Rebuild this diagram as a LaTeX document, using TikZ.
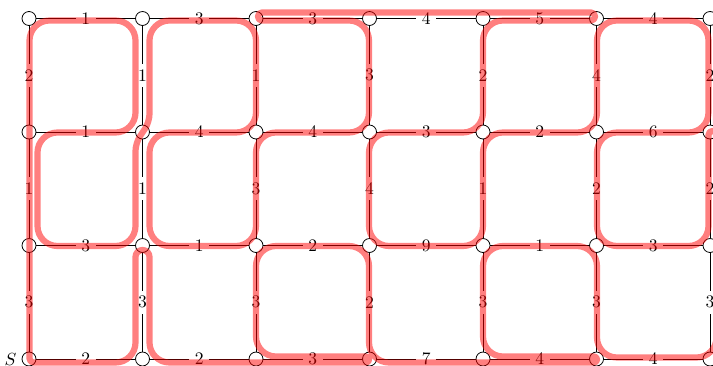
\documentclass[tikz,border=0pt]{standalone}
\begin{document}
\begin{tikzpicture}[x=0.02cm, y=-0.02cm,
  vtx/.style={circle, draw=black, fill=white, inner sep=0pt, minimum size=0.28cm, line width=0.45pt},
  wt/.style={fill=white, inner sep=3.2pt},
  gedge/.style={draw=black, line width=0.45pt},
  tour/.style={draw=red, draw opacity=0.5, line width=0.124cm, line cap=butt, line join=round}]
\useasboundingbox (0,0) rectangle (713,365);
% vertices
\foreach \c/\x in {0/29,1/142.5,2/256,3/369.5,4/483,5/596.5,6/710}
  \foreach \r/\y in {0/18.5,1/132,2/245.5,3/359}
    \node[vtx] (n\c\r) at (\x,\y) {};
\node[anchor=east, inner sep=1pt] (slab) at ([xshift=-0.06cm]n03.west) {$S$};
% edges with weights
\foreach \a/\b/\w in {00/10/1, 10/20/3, 20/30/3, 30/40/4, 40/50/5, 50/60/4,
                      01/11/1, 11/21/4, 21/31/4, 31/41/3, 41/51/2, 51/61/6,
                      02/12/3, 12/22/1, 22/32/2, 32/42/9, 42/52/1, 52/62/3,
                      03/13/2, 13/23/2, 23/33/3, 33/43/7, 43/53/4, 53/63/4,
                      00/01/2, 10/11/1, 20/21/1, 30/31/3, 40/41/2, 50/51/4, 60/61/2,
                      01/02/1, 11/12/1, 21/22/3, 31/32/4, 41/42/1, 51/52/2, 61/62/2,
                      02/03/3, 12/13/3, 22/23/3, 32/33/2, 42/43/3, 52/53/3, 62/63/3}
  \draw[gedge] (n\a) -- node[wt] {\w} (n\b);
% the tour
\draw[tour, rounded corners=0.4cm]
  (29.5,200)
  -- (29.5,300) [rounded corners=0.08cm]
  -- (29.5,362.5)
  -- (80,362.5) [rounded corners=0.4cm]
  -- (135.5,362.5)
  -- (135.5,300) [rounded corners=0.138cm]
  -- (135.5,250)
  -- (149.5,250)
  -- (149.5,300) [rounded corners=0.4cm]
  -- (149.5,362.5)
  -- (300,362.5) [rounded corners=0.058cm]
  -- (369,362.5)
  -- (369,356.5)
  -- (320,356.5) [rounded corners=0.4cm]
  -- (256,356.5)
  -- (256,246)
  -- (369,246)
  -- (369,362.5)
  -- (530,362.5) [rounded corners=0.058cm]
  -- (597,362.5)
  -- (597,356.5)
  -- (540,356.5) [rounded corners=0.4cm]
  -- (483,356.5)
  -- (483,246)
  -- (597,246)
  -- (597,357.5)
  -- (716.5,357.5)
  -- (716.5,200) [rounded corners=0.078cm]
  -- (716.5,131)
  -- (708.5,131)
  -- (708.5,190) [rounded corners=0.4cm]
  -- (708.5,246)
  -- (597,246)
  -- (597,132.5)
  -- (708.5,132.5)
  -- (708.5,20.5)
  -- (597,20.5)
  -- (597,132.5)
  -- (483,132.5)
  -- (483,246)
  -- (369,246)
  -- (369,132.5)
  -- (483,132.5)
  -- (483,20.5)
  -- (540,20.5) [rounded corners=0.078cm]
  -- (595,20.5)
  -- (595,12.5)
  -- (540,12.5)
  -- (258,12.5)
  -- (258,20.5)
  -- (310,20.5) [rounded corners=0.4cm]
  -- (369,20.5)
  -- (369,132.5)
  -- (256,132.5)
  -- (256,246)
  -- (149.5,246)
  -- (149.5,132.5)
  -- (256,132.5)
  -- (256,20.5)
  -- (149.5,20.5)
  -- (149.5,80) [rounded corners=0.16cm]
  -- (149.5,122)
  -- (135.5,143)
  -- (135.5,190) [rounded corners=0.4cm]
  -- (135.5,246)
  -- (37.5,246)
  -- (37.5,132.5)
  -- (135.5,132.5)
  -- (135.5,20.5)
  -- (29.5,20.5)
  -- (29.5,150)
  -- cycle;
\end{tikzpicture}
\end{document}
